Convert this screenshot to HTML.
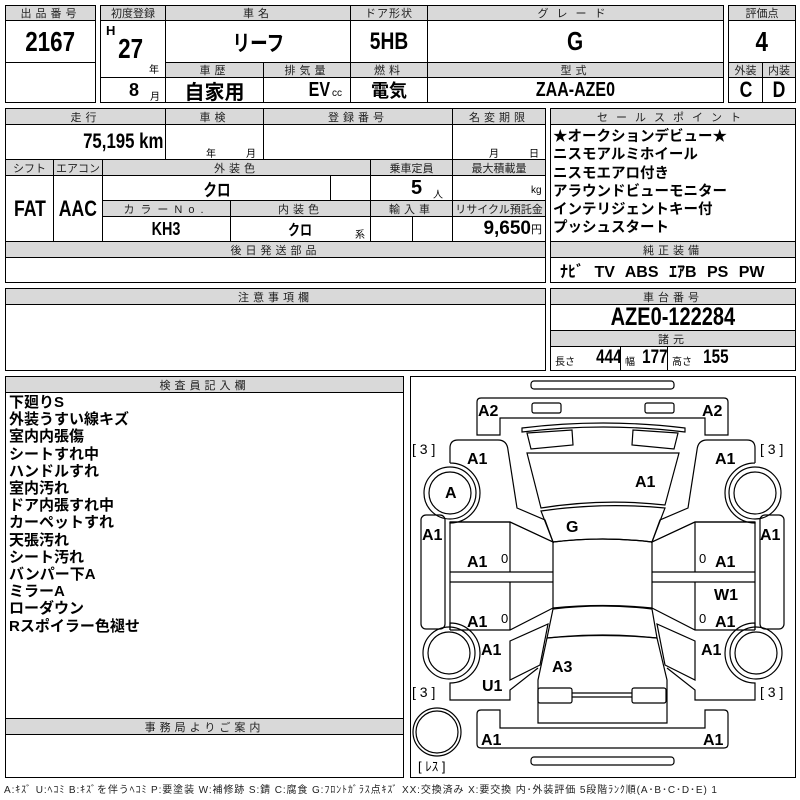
<!DOCTYPE html>
<html><head><meta charset="utf-8">
<style>
body{margin:0;width:800px;height:800px;background:#fff;position:relative;overflow:hidden;font-family:"Liberation Sans","Noto Sans CJK JP",sans-serif;}
.c{position:absolute;box-sizing:border-box;border:1px solid #000;background:#fff;display:flex;align-items:center;justify-content:center;font-weight:bold;color:#000;white-space:nowrap;}
.h{background:#d9d9d9;font-weight:normal;font-size:11px;letter-spacing:4px;color:#222;}
.n{font-family:"Liberation Sans Narrow","Liberation Sans","Noto Sans CJK JP",sans-serif;font-weight:bold;}
.q{display:inline-block;transform:scaleX(.8);}
.s{font-size:10px;font-weight:normal;}
.t{position:absolute;white-space:nowrap;}
</style></head><body>
<!-- Row1 -->
<div class="c h" style="left:5px;top:5px;width:91px;height:16px">出品番号</div>
<div class="c n" style="left:5px;top:20px;width:91px;height:43px;font-size:28px"><span class="q">2167</span></div>
<div class="c" style="left:5px;top:62px;width:91px;height:41px"></div>

<div class="c h" style="left:100px;top:5px;width:66px;height:16px;letter-spacing:0">初度登録</div>
<div class="c h" style="left:165px;top:5px;width:186px;height:16px">車名</div>
<div class="c h" style="left:350px;top:5px;width:78px;height:16px;letter-spacing:1px">ドア形状</div>
<div class="c h" style="left:427px;top:5px;width:297px;height:16px;letter-spacing:8px">グレード</div>
<div class="c" style="left:100px;top:20px;width:66px;height:58px"><span class="t n" style="left:5px;top:2px;font-size:13px">H</span><span class="t n" style="left:14px;top:12px;font-size:28px"><span class="q">27</span></span><span class="t s" style="left:48px;top:40px">年</span></div>
<div class="c n" style="left:165px;top:20px;width:186px;height:43px;font-size:22px"><span class="q">リーフ</span></div>
<div class="c n" style="left:350px;top:20px;width:78px;height:43px;font-size:24px"><span class="q">5HB</span></div>
<div class="c n" style="left:427px;top:20px;width:297px;height:43px;font-size:26px"><span class="q">G</span></div>
<div class="c" style="left:100px;top:77px;width:66px;height:26px"><span class="t n" style="left:28px;top:2px;font-size:18px">8</span><span class="t s" style="left:49px;top:10px">月</span></div>
<div class="c h" style="left:165px;top:62px;width:99px;height:16px">車歴</div>
<div class="c h" style="left:263px;top:62px;width:88px;height:16px">排気量</div>
<div class="c h" style="left:350px;top:62px;width:78px;height:16px">燃料</div>
<div class="c h" style="left:427px;top:62px;width:297px;height:16px">型式</div>
<div class="c" style="left:165px;top:77px;width:99px;height:26px;font-size:20px">自家用</div>
<div class="c" style="left:263px;top:77px;width:88px;height:26px"><span class="t n" style="left:42px;top:1px;font-size:20px"><span class="q">EV</span></span><span class="t s" style="left:68px;top:10px">cc</span></div>
<div class="c" style="left:350px;top:77px;width:78px;height:26px;font-size:18px">電気</div>
<div class="c n" style="left:427px;top:77px;width:297px;height:26px;font-size:20px"><span class="q">ZAA-AZE0</span></div>

<div class="c h" style="left:728px;top:5px;width:68px;height:16px;letter-spacing:0">評価点</div>
<div class="c n" style="left:728px;top:20px;width:68px;height:43px;font-size:28px"><span class="q">4</span></div>
<div class="c h" style="left:728px;top:62px;width:35px;height:16px;letter-spacing:0">外装</div>
<div class="c h" style="left:762px;top:62px;width:34px;height:16px;letter-spacing:0">内装</div>
<div class="c n" style="left:728px;top:77px;width:35px;height:26px;font-size:22px"><span class="q">C</span></div>
<div class="c n" style="left:762px;top:77px;width:34px;height:26px;font-size:22px"><span class="q">D</span></div>

<!-- Row2 -->
<div class="c h" style="left:5px;top:108px;width:161px;height:17px">走行</div>
<div class="c h" style="left:165px;top:108px;width:99px;height:17px">車検</div>
<div class="c h" style="left:263px;top:108px;width:190px;height:17px">登録番号</div>
<div class="c h" style="left:452px;top:108px;width:94px;height:17px">名変期限</div>
<div class="c" style="left:5px;top:124px;width:161px;height:36px;justify-content:flex-end;padding-right:2px"><span class="n q" style="font-size:21px;transform-origin:right">75,195 km</span></div>
<div class="c" style="left:165px;top:124px;width:99px;height:36px"><span class="t s" style="left:40px;top:20px">年</span><span class="t s" style="left:80px;top:20px">月</span></div>
<div class="c" style="left:263px;top:124px;width:190px;height:36px"></div>
<div class="c" style="left:452px;top:124px;width:94px;height:36px"><span class="t s" style="left:36px;top:20px">月</span><span class="t s" style="left:76px;top:20px">日</span></div>
<div class="c h" style="left:5px;top:159px;width:49px;height:17px;letter-spacing:0">シフト</div>
<div class="c h" style="left:53px;top:159px;width:50px;height:17px;letter-spacing:0">エアコン</div>
<div class="c h" style="left:102px;top:159px;width:269px;height:17px">外装色</div>
<div class="c h" style="left:370px;top:159px;width:83px;height:17px;letter-spacing:0">乗車定員</div>
<div class="c h" style="left:452px;top:159px;width:94px;height:17px;letter-spacing:0">最大積載量</div>
<div class="c n" style="left:5px;top:175px;width:49px;height:67px;font-size:22px"><span class="q">FAT</span></div>
<div class="c n" style="left:53px;top:175px;width:50px;height:67px;font-size:22px"><span class="q">AAC</span></div>
<div class="c n" style="left:102px;top:175px;width:229px;height:26px;font-size:17px"><span class="q">クロ</span></div>
<div class="c" style="left:330px;top:175px;width:41px;height:26px"></div>
<div class="c" style="left:370px;top:175px;width:83px;height:26px"><span class="t n" style="left:40px;top:1px;font-size:20px">5</span><span class="t s" style="left:62px;top:10px">人</span></div>
<div class="c" style="left:452px;top:175px;width:94px;height:26px"><span class="t s" style="left:78px;top:9px">kg</span></div>
<div class="c h" style="left:102px;top:200px;width:129px;height:17px;letter-spacing:6px">カラーNo.</div>
<div class="c h" style="left:230px;top:200px;width:141px;height:17px">内装色</div>
<div class="c h" style="left:370px;top:200px;width:83px;height:17px">輸入車</div>
<div class="c h" style="left:452px;top:200px;width:94px;height:17px;letter-spacing:0">リサイクル預託金</div>
<div class="c n" style="left:102px;top:216px;width:129px;height:26px;font-size:18px"><span class="q">KH3</span></div>
<div class="c n" style="left:230px;top:216px;width:141px;height:26px;font-size:15px"><span class="q">クロ</span><span class="t s" style="left:124px;top:9px">系</span></div>
<div class="c" style="left:370px;top:216px;width:43px;height:26px"></div>
<div class="c" style="left:412px;top:216px;width:41px;height:26px"></div>
<div class="c" style="left:452px;top:216px;width:94px;height:26px;justify-content:flex-end;padding-right:3px"><span class="n" style="font-size:19px">9,650</span><span style="font-size:11px;font-weight:normal">円</span></div>
<div class="c h" style="left:5px;top:241px;width:541px;height:17px">後日発送部品</div>
<div class="c" style="left:5px;top:257px;width:541px;height:26px"></div>

<div class="c h" style="left:550px;top:108px;width:246px;height:17px;letter-spacing:8px">セールスポイント</div>
<div class="c" style="left:550px;top:124px;width:246px;height:118px;display:block;padding:3px 0 0 2px;font-size:14.5px;line-height:18.3px">★オークションデビュー★<br>ニスモアルミホイール<br>ニスモエアロ付き<br>アラウンドビューモニター<br>インテリジェントキー付<br>プッシュスタート</div>
<div class="c h" style="left:550px;top:241px;width:246px;height:17px">純正装備</div>
<div class="c n" style="left:550px;top:257px;width:246px;height:26px;font-size:16px;justify-content:flex-start;padding-left:9px;word-spacing:6px">ﾅﾋﾞ TV ABS ｴｱB PS PW</div>

<!-- Row3 -->
<div class="c h" style="left:5px;top:288px;width:541px;height:17px">注意事項欄</div>
<div class="c" style="left:5px;top:304px;width:541px;height:67px"></div>
<div class="c h" style="left:550px;top:288px;width:246px;height:17px">車台番号</div>
<div class="c n" style="left:550px;top:304px;width:246px;height:27px;font-size:25px"><span class="q">AZE0-122284</span></div>
<div class="c h" style="left:550px;top:330px;width:246px;height:17px">諸元</div>
<div class="c" style="left:550px;top:346px;width:71px;height:25px"><span class="t s" style="left:4px;top:6px">長さ</span><span class="t n" style="left:42px;top:0px;font-size:19px"><span class="q">444</span></span></div>
<div class="c" style="left:620px;top:346px;width:48px;height:25px"><span class="t s" style="left:4px;top:6px">幅</span><span class="t n" style="left:18px;top:0px;font-size:19px"><span class="q">177</span></span></div>
<div class="c" style="left:667px;top:346px;width:129px;height:25px"><span class="t s" style="left:4px;top:6px">高さ</span><span class="t n" style="left:32px;top:0px;font-size:19px"><span class="q">155</span></span></div>

<!-- Row4 -->
<div class="c h" style="left:5px;top:376px;width:399px;height:17px">検査員記入欄</div>
<div class="c" style="left:5px;top:392px;width:399px;height:327px;display:block;padding:1px 0 0 3px;font-size:15px;line-height:17.2px">下廻りS<br>外装うすい線キズ<br>室内内張傷<br>シートすれ中<br>ハンドルすれ<br>室内汚れ<br>ドア内張すれ中<br>カーペットすれ<br>天張汚れ<br>シート汚れ<br>バンパー下A<br>ミラーA<br>ローダウン<br>Rスポイラー色褪せ</div>
<div class="c h" style="left:5px;top:718px;width:399px;height:17px">事務局よりご案内</div>
<div class="c" style="left:5px;top:734px;width:399px;height:44px"></div>
<div class="t" style="left:4px;top:781px;font-size:10px;color:#222;letter-spacing:0.9px">A:ｷｽﾞ U:ﾍｺﾐ B:ｷｽﾞを伴うﾍｺﾐ P:要塗装 W:補修跡 S:錆 C:腐食 G:ﾌﾛﾝﾄｶﾞﾗｽ点ｷｽﾞ XX:交換済み X:要交換 内･外装評価 5段階ﾗﾝｸ順(A･B･C･D･E) 1</div>

<div class="c" style="left:410px;top:376px;width:386px;height:402px"></div>
<svg style="position:absolute;left:0;top:0" width="800" height="800" viewBox="0 0 800 800" fill="none" stroke="#000" stroke-width="1.2">
<rect x="531" y="381" width="143" height="8" rx="3"/>
<path d="M477,402 Q477,398 481,398 L724,398 Q728,398 728,402 L728,435 L705,435 L705,418 L500,418 L500,435 L477,435 Z"/>
<rect x="532" y="403" width="29" height="10" rx="2"/><rect x="645" y="403" width="29" height="10" rx="2"/>
<path d="M522,428 Q603,418 685,428 L685,432 Q603,422 522,432 Z"/>
<path d="M527,433 L572,430 L573,445 L531,449 Z"/><path d="M678,433 L633,430 L632,445 L674,449 Z"/>
<path d="M527,453 L679,453 L665,505 Q603,498 541,508 Z"/>
<path d="M541,511 Q603,502 665,508 L652,542 Q603,536 553,542 Z"/>
<path d="M553,542 Q603,536 652,542 L652,608 Q603,603 553,608 Z"/>
<path d="M553,609 Q603,603 652,609 L657,638 Q603,632 547,638 Z"/>
<path d="M547,638 Q603,633 657,638 L667,680 L667,723 L538,723 L538,680 Z"/>
<rect x="538" y="688" width="34" height="15" rx="2"/><rect x="632" y="688" width="34" height="15" rx="2"/>
<line x1="572" y1="693" x2="632" y2="693"/><line x1="572" y1="697" x2="632" y2="697"/>
<path d="M477,714 Q477,710 481,710 L500,710 L500,728 L705,728 L705,710 L724,710 Q728,710 728,714 L728,744 Q728,748 724,748 L481,748 Q477,748 477,744 Z"/>
<rect x="531" y="757" width="143" height="8" rx="3"/>
<g id="L">
<path d="M450,463 L450,448 Q450,440 458,440 L498,440 Q507,440 508,450 L517,508 L545,520 L553,542 L510,522 L450,522 L450,523 A30,30 0 0 0 450,463"/>
<circle cx="450" cy="493" r="26"/><circle cx="450" cy="493" r="21"/>
<rect x="421" y="515" width="24" height="114" rx="5"/>
<path d="M450,522 L510,522 L553,542 M510,522 L510,572 M450,572 L553,572 M450,582 L553,582 M510,582 L510,630 M450,630 L510,630 L553,608 M450,522 L450,630"/>
<path d="M510,641 L548,624 L540,665 L510,680 Z"/>
<path d="M450,630 L450,623 A30,30 0 0 1 450,683 L450,700 L510,700 L510,690 L538,668"/>
<circle cx="449" cy="653" r="26"/><circle cx="449" cy="653" r="21"/>
</g>
<use href="#L" transform="translate(1205,0) scale(-1,1)"/>
<circle cx="437" cy="732" r="24"/><circle cx="437" cy="732" r="21"/>
<g fill="#000" stroke="none" font-family="Liberation Sans" font-weight="bold" font-size="16">
<text x="478" y="416">A2</text><text x="702" y="416">A2</text>
<text x="467" y="464">A1</text><text x="715" y="464">A1</text><text x="635" y="487">A1</text>
<text x="445" y="498">A</text>
<text x="422" y="540">A1</text><text x="760" y="540">A1</text>
<text x="566" y="532">G</text>
<text x="467" y="567">A1</text><text x="715" y="567">A1</text>
<text x="714" y="600">W1</text>
<text x="467" y="627">A1</text><text x="715" y="627">A1</text>
<text x="481" y="655">A1</text><text x="701" y="655">A1</text>
<text x="552" y="672">A3</text><text x="482" y="691">U1</text>
<text x="481" y="745">A1</text><text x="703" y="745">A1</text>
</g>
<g fill="#000" stroke="none" font-family="Liberation Sans" font-size="13">
<text x="501" y="563">0</text><text x="699" y="563">0</text><text x="501" y="623">0</text><text x="699" y="623">0</text>
<text x="412" y="454" font-size="14">[ 3 ]</text><text x="760" y="454" font-size="14">[ 3 ]</text>
<text x="412" y="697" font-size="14">[ 3 ]</text><text x="760" y="697" font-size="14">[ 3 ]</text>
<text x="418" y="771" font-size="13">[ ﾚｽ ]</text>
</g>
</svg>
</body></html>
